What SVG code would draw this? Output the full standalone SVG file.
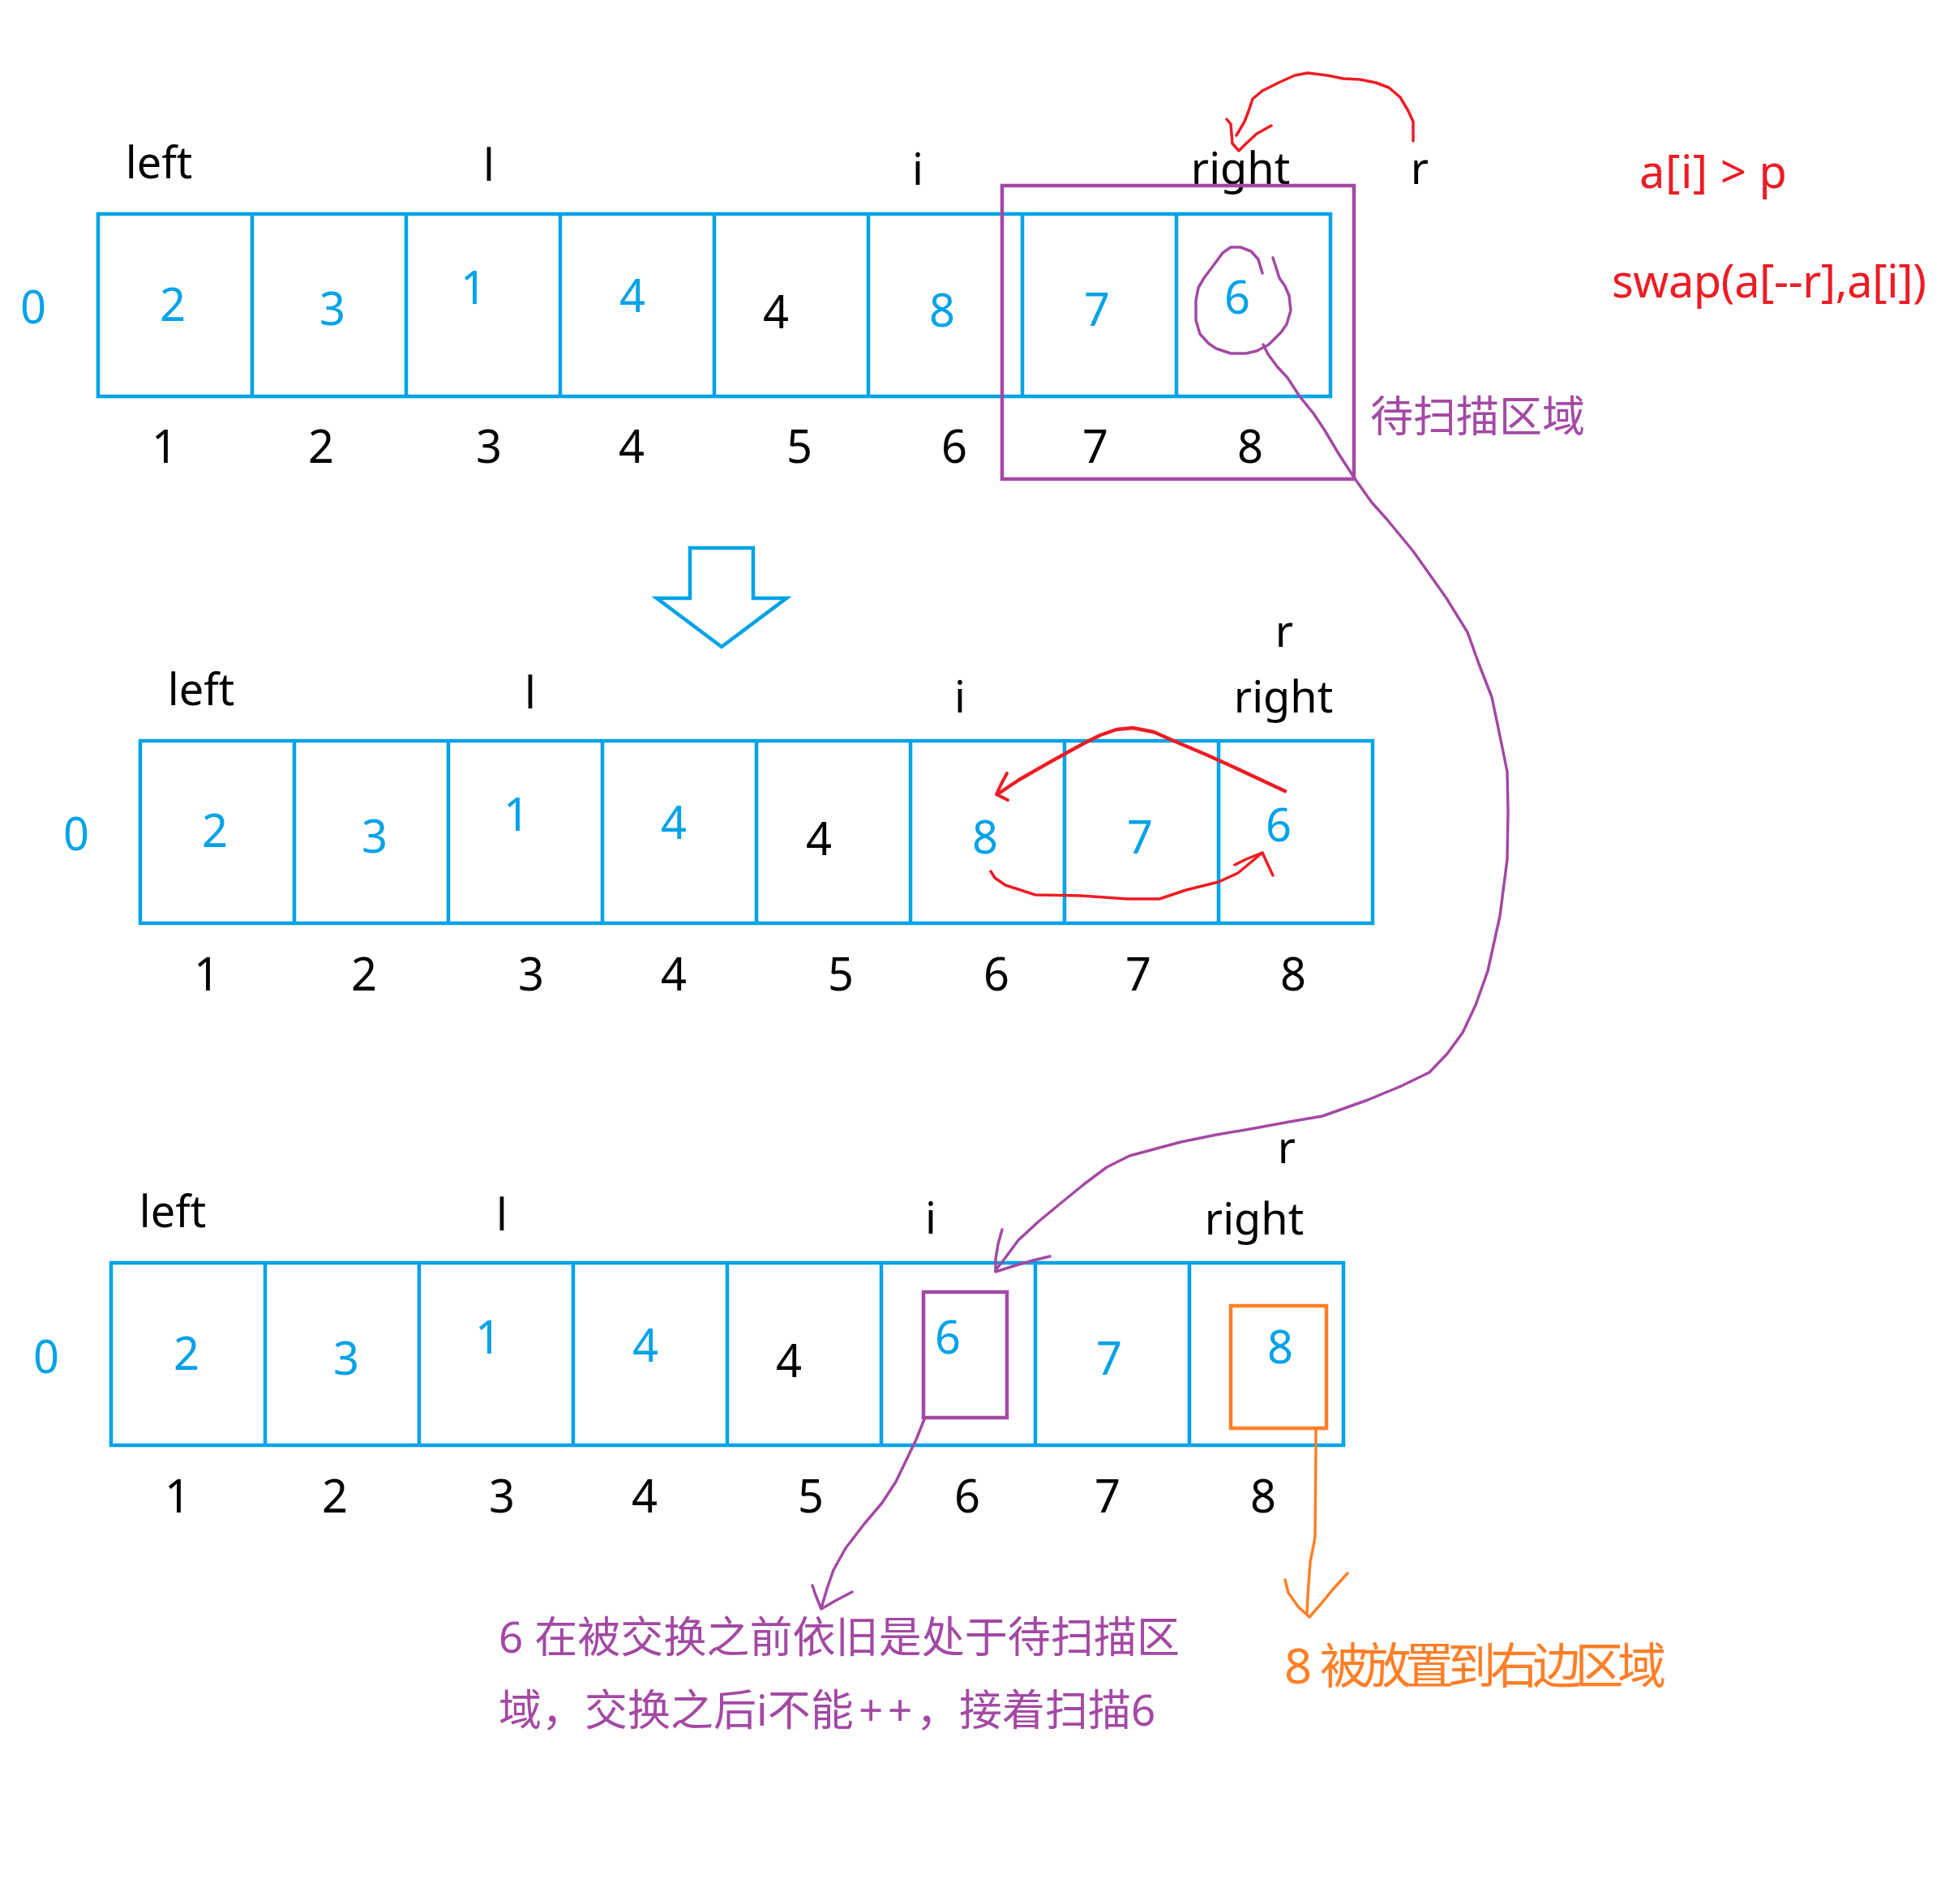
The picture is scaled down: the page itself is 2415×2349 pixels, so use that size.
<svg xmlns="http://www.w3.org/2000/svg" xmlns:xlink="http://www.w3.org/1999/xlink" width="2415" height="2349" viewBox="0 0 2415 2349">
<style>
  text { font-family: "Noto Sans", "Noto Sans CJK SC", sans-serif; }
  .arr { fill: none; stroke: #00A2E8; stroke-width: 4.5; }
  .num { font-size: 56px; text-anchor: middle; }
  .lbl { font-size: 54px; text-anchor: middle; fill: #000; }
  .b { fill: #00A2E8; }
  .k { fill: #000; }
  .red { fill: none; stroke: #ED1C24; stroke-width: 3.5; stroke-linejoin: round; stroke-linecap: round; }
  .pur { fill: none; stroke: #A349A4; stroke-width: 3.5; stroke-linejoin: round; stroke-linecap: round; }
  .org { fill: none; stroke: #FF7F27; stroke-width: 3.5; stroke-linejoin: round; stroke-linecap: round; }
  .box-p { fill: none; stroke: #A349A4; stroke-width: 4.5; }
  .box-o { fill: none; stroke: #FF7F27; stroke-width: 4.5; }
</style>
<defs>
  <g id="arrayShape">
    <rect x="0" y="0" width="1520" height="225"/>
    <path d="M190,0V225M380,0V225M570,0V225M760,0V225M950,0V225M1140,0V225M1330,0V225"/>
  </g>
</defs>
<rect width="2415" height="2349" fill="#fff"/>

<!-- Row 1 -->
<g id="row1">
  <use href="#arrayShape" x="121" y="264" class="arr"/>
  <text class="num b" x="41" y="399">0</text>
  <text class="num b" x="213" y="396">2</text>
  <text class="num b" x="410" y="401">3</text>
  <text class="num b" x="584" y="375">1</text>
  <text class="num b" x="780" y="385">4</text>
  <text class="num k" x="957" y="405">4</text>
  <text class="num b" x="1162" y="403">8</text>
  <text class="num b" x="1353" y="402">7</text>
  <text class="num b" x="1526" y="387">6</text>
  <text class="num k" x="203" y="571">1</text>
  <text class="num k" x="396" y="571">2</text>
  <text class="num k" x="603" y="571">3</text>
  <text class="num k" x="779" y="571">4</text>
  <text class="num k" x="986" y="571">5</text>
  <text class="num k" x="1177" y="571">6</text>
  <text class="num k" x="1351" y="571">7</text>
  <text class="num k" x="1542" y="571">8</text>
  <text class="lbl" x="196" y="220">left</text>
  <text class="lbl" x="603" y="223">l</text>
  <text class="lbl" x="1132" y="228">i</text>
  <text class="lbl" x="1530" y="227">right</text>
  <text class="lbl" x="1751" y="227">r</text>
</g>
<g id="scanRegion1">
  <rect class="box-p" x="1236" y="229" width="434" height="362"/>
  <text x="1690" y="533" font-size="53" fill="#A349A4">待扫描区域</text>
</g>
<g id="condition">
  <text x="2022" y="232" font-size="56" fill="#ED1C24" textLength="182" lengthAdjust="spacing">a[i] &gt; p</text>
  <text x="1988" y="367" font-size="56" fill="#ED1C24" textLength="388" lengthAdjust="spacing">swap(a[--r],a[i])</text>
</g>

<!-- Down arrow -->
<g id="downArrow">
  <polygon points="851,676 929,676 929,738 970,738 890,798 810,738 851,738" fill="none" stroke="#00A2E8" stroke-width="4.5" stroke-linejoin="miter"/>
</g>

<!-- Row 2 -->
<g id="row2">
  <use href="#arrayShape" x="173" y="914" class="arr"/>
  <text class="num b" x="94" y="1049">0</text>
  <text class="num b" x="265" y="1045">2</text>
  <text class="num b" x="462" y="1052">3</text>
  <text class="num b" x="637" y="1025">1</text>
  <text class="num b" x="831" y="1035">4</text>
  <text class="num k" x="1010" y="1055">4</text>
  <text class="num b" x="1215" y="1053">8</text>
  <text class="num b" x="1406" y="1053">7</text>
  <text class="num b" x="1577" y="1038">6</text>
  <text class="num k" x="255" y="1222">1</text>
  <text class="num k" x="449" y="1222">2</text>
  <text class="num k" x="655" y="1222">3</text>
  <text class="num k" x="831" y="1222">4</text>
  <text class="num k" x="1037" y="1222">5</text>
  <text class="num k" x="1229" y="1222">6</text>
  <text class="num k" x="1404" y="1222">7</text>
  <text class="num k" x="1595" y="1222">8</text>
  <text class="lbl" x="248" y="870">left</text>
  <text class="lbl" x="654" y="874">l</text>
  <text class="lbl" x="1184" y="879">i</text>
  <text class="lbl" x="1583" y="879">right</text>
  <text class="lbl" x="1584" y="798">r</text>
</g>

<!-- Row 3 -->
<g id="row3">
  <use href="#arrayShape" x="137" y="1558" class="arr"/>
  <text class="num b" x="57" y="1694">0</text>
  <text class="num b" x="230" y="1690">2</text>
  <text class="num b" x="427" y="1696">3</text>
  <text class="num b" x="602" y="1670">1</text>
  <text class="num b" x="796" y="1680">4</text>
  <text class="num k" x="973" y="1699">4</text>
  <text class="num b" x="1169" y="1670">6</text>
  <text class="num b" x="1368" y="1696">7</text>
  <text class="num b" x="1579" y="1682">8</text>
  <text class="num k" x="219" y="1866">1</text>
  <text class="num k" x="413" y="1866">2</text>
  <text class="num k" x="619" y="1866">3</text>
  <text class="num k" x="795" y="1866">4</text>
  <text class="num k" x="1000" y="1866">5</text>
  <text class="num k" x="1193" y="1866">6</text>
  <text class="num k" x="1366" y="1866">7</text>
  <text class="num k" x="1558" y="1866">8</text>
  <text class="lbl" x="213" y="1514">left</text>
  <text class="lbl" x="619" y="1518">l</text>
  <text class="lbl" x="1148" y="1522">i</text>
  <text class="lbl" x="1547" y="1523">right</text>
  <text class="lbl" x="1587" y="1435">r</text>
</g>
<g id="box6">
  <rect class="box-p" x="1139" y="1594" width="103" height="155"/>
</g>
<g id="box8">
  <rect class="box-o" x="1518" y="1611" width="118" height="151"/>
</g>

<!-- Notes -->
<g id="note6">
  <text x="615" y="2039" font-size="53" fill="#A349A4" textLength="840" lengthAdjust="spacing">6 在被交换之前依旧是处于待扫描区</text>
  <text y="2129" font-size="53" fill="#A349A4"><tspan x="615">域，交换之后i不能</tspan><tspan x="1059">+</tspan><tspan x="1095">+</tspan><tspan x="1130">，接着扫描6</tspan></text>
</g>
<g id="note8">
  <text y="2077" font-size="60" fill="#FF7F27"><tspan x="1584">8</tspan><tspan x="1620" textLength="435" lengthAdjust="spacing"> 被放置到右边区域</tspan></text>
</g>

<!-- Connectors -->
<g id="connectors">
  <polyline class="red" points="1743,174 1743,150 1737,137 1727,120 1713,108 1697,102 1677,98 1657,97 1637,93 1613,90 1597,93 1577,102 1557,112 1545,122 1540,137 1535,150 1525,167"/>
  <polyline class="red" points="1513,147 1518,153 1520,177 1528,186 1537,177 1550,165 1568,155"/>

  <polyline class="red" style="stroke-width:4.5" points="1585,976 1523,947 1490,932 1450,915 1423,903 1397,898 1377,900 1357,907 1337,917 1317,928 1290,943 1257,962 1230,980"/>
  <polyline class="red" style="stroke-width:4" points="1242,954 1235,967 1229,980 1243,987"/>
  <polyline class="red" points="1222,1075 1227,1083 1240,1092 1277,1104 1333,1105 1390,1109 1430,1109 1463,1098 1503,1088 1527,1077 1557,1052"/>
  <polyline class="red" points="1523,1067 1537,1060 1557,1052 1570,1080"/>

  <polyline class="pur" points="1570,318 1578,343 1585,353 1590,365 1592,383 1587,400 1580,410 1565,425 1550,433 1537,436 1518,436 1500,430 1491,424 1480,412 1475,395 1475,371 1478,355 1485,343 1497,327 1508,312 1518,305 1530,305 1543,310 1552,320 1557,337"/>
  <polyline class="pur" points="1558,425 1564,437 1575,452 1588,466 1603,489 1620,510 1634,531 1650,558 1670,589 1692,620 1710,640 1743,680 1784,738 1810,780 1824,819 1840,860 1850,908 1859,952 1860,1000 1859,1060 1850,1130 1835,1198 1820,1240 1804,1274 1785,1300 1763,1323 1728,1340 1687,1357 1631,1377 1590,1384 1547,1392 1500,1400 1456,1409 1393,1426 1365,1440 1337,1461 1310,1483 1281,1507 1256,1530 1239,1553 1228,1567"/>
  <polyline class="pur" points="1236,1517 1231,1535 1228,1553 1228,1569 1253,1561 1274,1555 1295,1550"/>

  <polyline class="pur" points="1140,1751 1130,1776 1116,1805 1105,1828 1088,1854 1066,1880 1043,1910 1028,1937 1020,1960 1013,1984"/>
  <polyline class="pur" points="1002,1956 1006,1968 1013,1985 1030,1975 1051,1964"/>

  <polyline class="org" points="1623,1764 1623,1790 1622,1896 1620,1907 1616,1927 1613,1969 1612,1990"/>
  <polyline class="org" points="1585,1949 1589,1965 1601,1982 1615,1995 1629,1979 1643,1962 1662,1941"/>
</g>
</svg>
